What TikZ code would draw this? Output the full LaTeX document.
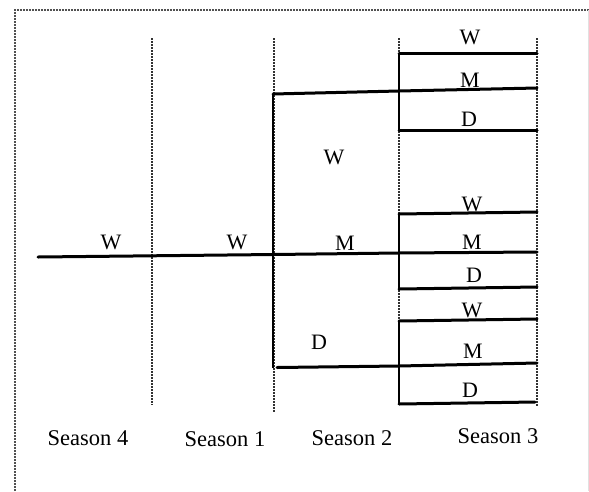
\documentclass[tikz,border=0pt]{standalone}
\usepackage{fontspec}
\setmainfont{Liberation Serif}
\usetikzlibrary{positioning}
\definecolor{DotGray}{RGB}{50,50,50}
\definecolor{EdgeGray}{RGB}{225,225,225}
\tikzset{
  branch/.style={line width=3pt,draw=black,line cap=round},
  joint/.style={line width=1.8pt,draw=black},
  seasonline/.style={line width=2pt,dash pattern=on 1.6pt off 1.4pt,draw=DotGray},
  frameline/.style={line width=2pt,dash pattern=on 1.6pt off 1.4pt,draw=DotGray!85},
  outcome/.style={font=\fontsize{22}{24}\selectfont,inner sep=0pt},
  seasonlabel/.style={font=\fontsize{22.5}{26}\selectfont,inner sep=0pt}
}

\begin{document}
\begin{tikzpicture}[x=1pt,y=-1pt]
\useasboundingbox (0,0) rectangle (589,491);
% frame
\draw[frameline] (15,491) -- (15,10) -- (589,10);
\draw[EdgeGray,line width=1pt] (588,10) -- (588,491);
% season boundaries
\draw[seasonline] (152,38) -- (152,405);
\draw[seasonline] (274,38) -- (274,412);
\draw[seasonline] (399,38) -- (399,405);
\draw[seasonline] (537,38) -- (537,406);
% branching points
\coordinate (start) at (38,257);
\coordinate (root) at (274,254.5);
\coordinate (rootW) at (273,94);
\coordinate (rootD) at (277,367.5);
\coordinate (midW) at (399,91);
\coordinate (midM) at (399,253);
\coordinate (midD) at (399,366);
\coordinate (endWM) at (537,88);
\coordinate (endMM) at (537,252);
\coordinate (endDM) at (537,363);
% season 4 to season 2
\draw[branch] (start) -- (root) -- (midM) -- (endMM);
\draw[joint] (rootW) -- (rootW |- rootD);
\draw[branch] (rootW) -- (midW) -- (endWM);
\draw[branch] (rootD) -- (midD) -- (endDM);
% season 3 after W
\coordinate (wW) at (399,53);
\coordinate (wD) at (399,131);
\draw[branch] (wW) -- (537,53);
\draw[branch] (399,130) -- (537,130);
\draw[joint] (wW) -- (wD);
% season 3 after M
\coordinate (mW) at (399,214);
\coordinate (mD) at (399,290);
\draw[branch] (mW) -- (537,212);
\draw[branch] (399,289) -- (537,287);
\draw[joint] (mW) -- (mD);
% season 3 after D
\coordinate (dW) at (399,321);
\coordinate (dD) at (399,404);
\draw[branch] (dW) -- (537,319);
\draw[branch] (dD) -- (535,402);
\draw[joint] (dW) -- (dD);
% outcomes
\node[outcome] (w4) at (111,242) {W};
\node[outcome] (w1) at (237,242) {W};
\node[outcome] (w2) at (334,157) {W};
\node[outcome] (m2) at (345,243) {M};
\node[outcome] (d2) at (319,342) {D};
\node[outcome] (ww3) at (470,37) {W};
\node[outcome] (wm3) at (470,80) {M};
\node[outcome] (wd3) at (469,119) {D};
\node[outcome] (mw3) at (472,204) {W};
\node[outcome] (mm3) at (472,242) {M};
\node[outcome] (md3) at (474,275) {D};
\node[outcome] (dw3) at (472,310) {W};
\node[outcome] (dm3) at (473,351) {M};
\node[outcome] (dd3) at (470,390) {D};
% season names
\node[seasonlabel] (s4) at (88,438) {Season 4};
\node[seasonlabel] (s1) at (225,439) {Season 1};
\node[seasonlabel] (s2) at (352,438) {Season 2};
\node[seasonlabel] (s3) at (498,436) {Season 3};
\end{tikzpicture}
\end{document}
